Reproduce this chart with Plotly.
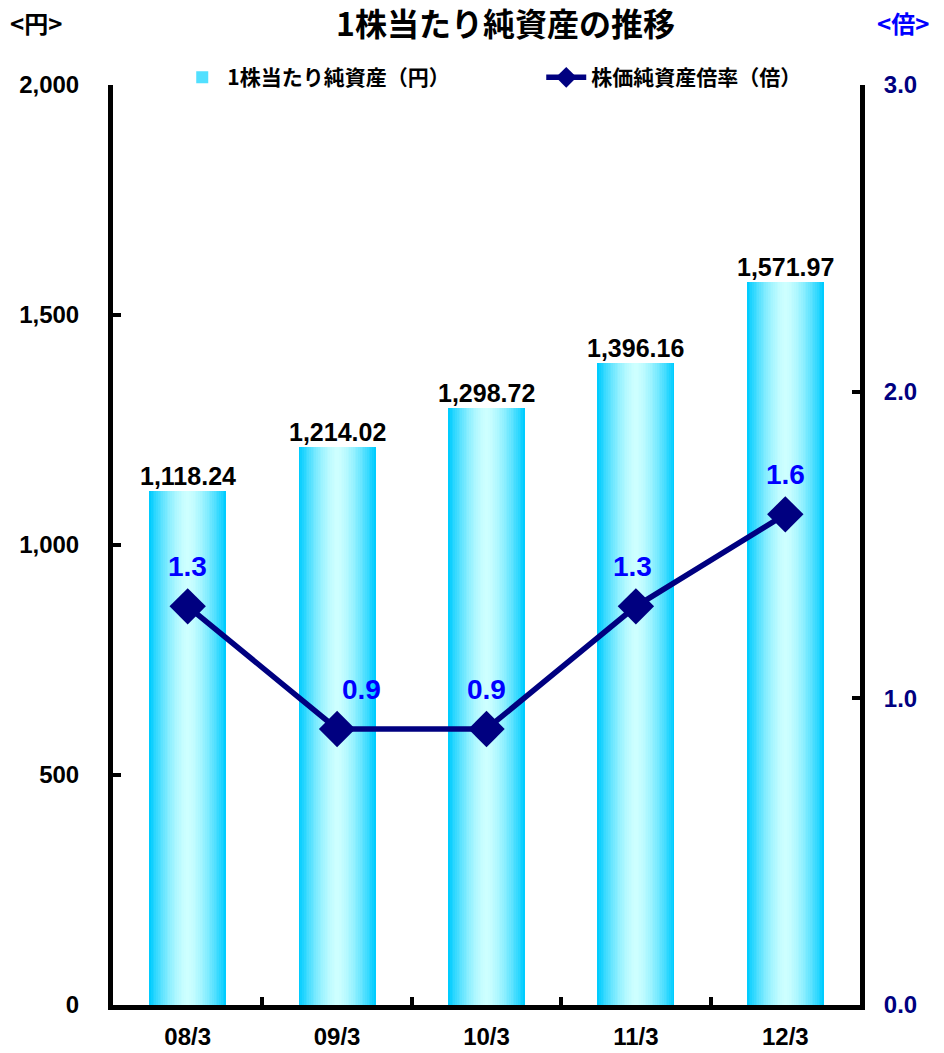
import plotly.graph_objects as go

# Fiscal year-end periods
periods = ["08/3", "09/3", "10/3", "11/3", "12/3"]
# Net assets per share (yen)
net_assets = [1118.24, 1214.02, 1298.72, 1396.16, 1571.97]
# Price-to-book ratio (times)
pbr = [1.3, 0.9, 0.9, 1.3, 1.6]

left_ticks = [0, 500, 1000, 1500, 2000]
right_ticks = [0, 1, 2, 3]

NUM_FONT = "Liberation Sans, Arial, sans-serif"
JP_FONT = "Noto Sans CJK JP, sans-serif"

EDGE = (0, 204, 255)
CENTER = (206, 255, 255)
BAR_W = 0.515
LAYERS = 22

fig = go.Figure()

# Cylinder-like horizontal gradient built from stacked, narrowing bars
for i in range(LAYERS):
    d = 1 - i / LAYERS  # 1 = outer edge, ->0 = center
    k = d ** 1.6
    col = tuple(round(CENTER[j] + (EDGE[j] - CENTER[j]) * k) for j in range(3))
    fig.add_trace(go.Bar(
        x=periods, y=net_assets, width=BAR_W * d,
        marker=dict(color="rgb(%d,%d,%d)" % col, line=dict(width=0)),
        name="1株当たり純資産（円）",
        showlegend=(i == 6), legendrank=1,
        hoverinfo="skip",
    ))

fig.add_trace(go.Scatter(
    x=periods, y=pbr, yaxis="y2", mode="lines+markers",
    line=dict(color="#000080", width=5.5),
    marker=dict(symbol="diamond", size=28, color="#000080"),
    name="株価純資産倍率（倍）", legendrank=2,
))

annotations = []
for p, v in zip(periods, net_assets):
    annotations.append(dict(
        x=p, y=v, xref="x", yref="y", text=f"{v:,.2f}", showarrow=False,
        yanchor="bottom", yshift=-1,
        font=dict(family=NUM_FONT, size=25, color="black", weight="bold"),
    ))

label_dx = [0, 24, 0, -3, 0]
for p, v, dx in zip(periods, pbr, label_dx):
    annotations.append(dict(
        x=p, y=v, xref="x", yref="y2", text=f"{v:.1f}", showarrow=False,
        yanchor="middle", yshift=40, xshift=dx,
        font=dict(family=NUM_FONT, size=28, color="#0000FF", weight="bold"),
    ))

annotations += [
    dict(x=0.526, y=1.0685, xref="paper", yref="paper", text="1株当たり純資産の推移",
         showarrow=False, xanchor="center", yanchor="middle",
         font=dict(family=JP_FONT, size=32, color="black", weight="bold")),
    dict(x=-0.103, y=1.068, xref="paper", yref="paper", text="<円>",
         showarrow=False, xanchor="center", yanchor="middle",
         font=dict(family=JP_FONT, size=24, color="black", weight="bold")),
    dict(x=1.058, y=1.068, xref="paper", yref="paper", text="<倍>",
         showarrow=False, xanchor="center", yanchor="middle",
         font=dict(family=JP_FONT, size=24, color="#0000FF", weight="bold")),
]

fig.update_layout(
    width=944, height=1053,
    margin=dict(l=113, r=84, t=85, b=48),
    paper_bgcolor="white", plot_bgcolor="white",
    barmode="overlay", bargap=0,
    showlegend=True,
    legend=dict(
        orientation="h", x=0.086, y=1.008, xanchor="left", yanchor="middle",
        font=dict(family=JP_FONT, size=21, color="black", weight="bold"),
        bgcolor="rgba(0,0,0,0)", itemwidth=40,
        entrywidth=309, entrywidthmode="pixels", traceorder="normal",
    ),
    xaxis=dict(
        type="category", showline=True, linecolor="black", linewidth=5,
        ticks="inside", tickson="boundaries", ticklen=8, tickwidth=4, tickcolor="black",
        showgrid=False, zeroline=False, ticklabelstandoff=6, automargin=False,
        tickfont=dict(family=NUM_FONT, size=24, color="black", weight="bold"),
    ),
    yaxis=dict(
        range=[0, 2000], tickvals=left_ticks, tickformat=",",
        showline=True, linecolor="black", linewidth=5,
        ticks="inside", ticklen=8, tickwidth=4, tickcolor="black",
        showgrid=False, zeroline=False, ticklabelstandoff=24, automargin=False,
        tickfont=dict(family=NUM_FONT, size=24, color="black", weight="bold"),
    ),
    yaxis2=dict(
        range=[0, 3], tickvals=right_ticks, tickformat=".1f",
        overlaying="y", side="right",
        showline=True, linecolor="black", linewidth=5,
        ticks="inside", ticklen=8, tickwidth=4, tickcolor="black",
        showgrid=False, zeroline=False, ticklabelstandoff=14, automargin=False,
        tickfont=dict(family=NUM_FONT, size=24, color="#000080", weight="bold"),
    ),
    annotations=annotations,
)

fig.write_html("out.html")
